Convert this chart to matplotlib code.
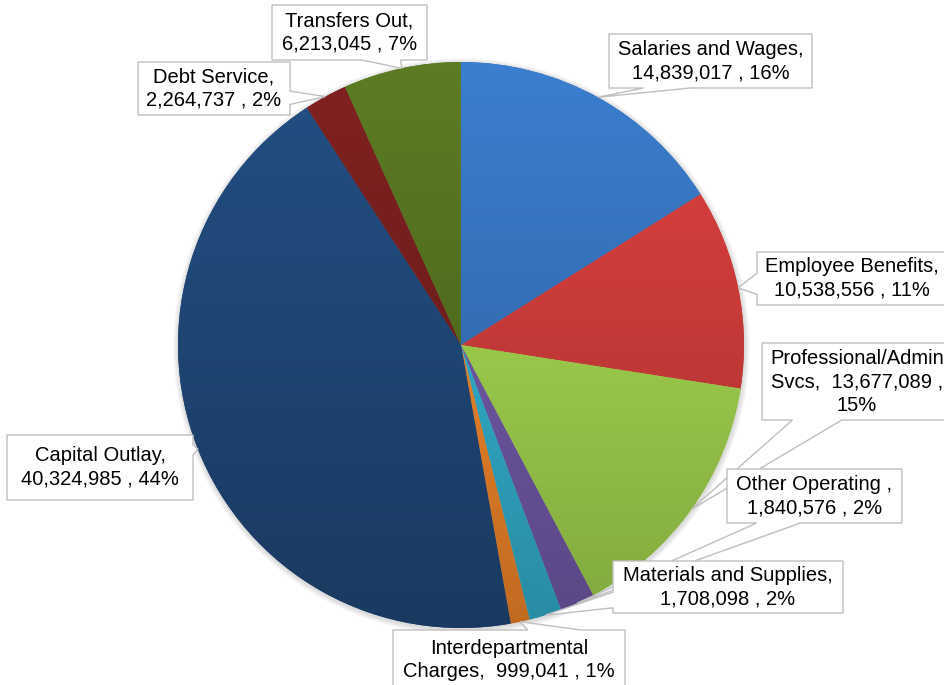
import numpy as np
import matplotlib
matplotlib.use("Agg")
import matplotlib.pyplot as plt
from matplotlib.patches import Polygon, Circle
from matplotlib.colors import to_rgb

# data
kategori = ["Salaries and Wages", "Employee Benefits", "Professional/Admin Svcs",
            "Other Operating", "Materials and Supplies", "Interdepartmental Charges",
            "Capital Outlay", "Debt Service", "Transfers Out"]
nilai = [14839017, 10538556, 13677089, 1840576, 1708098, 999041,
         40324985, 2264737, 6213045]
# format label tiap slice (patah barisnya ikut gambar aslinya)
format_label = ["{n},\n{v} , {p}%",
                "{n},\n{v} , {p}%",
                "Professional/Admin\nSvcs,  {v} ,\n{p}%",
                "{n} ,\n{v} , {p}%",
                "{n},\n{v} , {p}%",
                "Interdepartmental\nCharges,  {v} , {p}%",
                "{n},\n{v} , {p}%",
                "{n},\n{v} , {p}%",
                "{n},\n{v} , {p}%"]
warna = ["#3673BD", "#CD3C3A", "#A1D24E", "#7159A6", "#33AFCC", "#F0852A",
         "#204878", "#751F1E", "#547120"]

W, H = 945, 685
cx, cy, r = 461, H - 345, 283

# posisi kotak label (kiri, atas, kanan, bawah) dalam pixel dari atas, sisi pointer, pecahan basis
kotak = [(609, 34, 812, 88, "bottom", 0.17, 0.40),
         (757, 252, 947, 305, "left", 0.40, 0.80),
         (762, 343, 952, 420, "bottom", 0.16, 0.42),
         (727, 469, 902, 523, "bottom", 0.17, 0.42),
         (613, 561, 843, 613, "left", 0.60, 0.90),
         (393, 630, 625, 690, "top", 0.58, 0.81),
         (7, 435, 193, 500, "right", 0.15, 0.31),
         (138, 62, 290, 115, "right", 0.55, 0.80),
         (272, 5, 427, 60, "bottom", 0.58, 0.83)]

plt.rcParams['font.family'] = ['Liberation Sans', 'DejaVu Sans']

fig = plt.figure(figsize=(W / 100, H / 100), dpi=100)
ax = fig.add_axes([0, 0, 1, 1])

# bayangan tipis di sekitar pie
for k in range(6, 0, -1):
    ax.add_patch(Circle((cx + 0.5, cy - 1.5), r + k * 0.9, color="#000000",
                        alpha=0.025, lw=0, zorder=0))

wedges, _ = ax.pie(nilai, colors=warna, startangle=90, counterclock=False,
                   center=(cx, cy), radius=r, wedgeprops=dict(linewidth=0))

# gradasi vertikal: atas lebih terang, bawah lebih gelap
t = np.linspace(0, 1, 400)[:, None]
faktor = 1.1 - 0.3 * t
for w, c in zip(wedges, warna):
    base = np.array(to_rgb(c))
    img = np.clip(faktor[:, :, None] * base[None, None, :], 0, 1)
    im = ax.imshow(img, extent=(cx - r, cx + r, cy - r, cy + r), origin="upper",
                   aspect="auto", interpolation="bilinear", zorder=2)
    im.set_clip_path(w)
    w.set_zorder(1)

total = sum(nilai)


def callout(box, tip, text):
    x0, y0, x1, y1, side, f0, f1 = box
    bw, bh = x1 - x0, y1 - y0
    tx, ty = tip
    pts = [(x0, y0)]
    if side == "top":
        pts += [(x0 + f0 * bw, y0), (tx, H - ty), (x0 + f1 * bw, y0)]
    pts += [(x1, y0)]
    if side == "right":
        pts += [(x1, y0 + f0 * bh), (tx, H - ty), (x1, y0 + f1 * bh)]
    pts += [(x1, y1)]
    if side == "bottom":
        pts += [(x0 + f1 * bw, y1), (tx, H - ty), (x0 + f0 * bw, y1)]
    pts += [(x0, y1)]
    if side == "left":
        pts += [(x0, y0 + f1 * bh), (tx, H - ty), (x0, y0 + f0 * bh)]
    pts = [(px, H - py) for px, py in pts]
    ax.add_patch(Polygon(pts, closed=True, facecolor="white", edgecolor="#BFBFBF",
                         lw=1, zorder=5))
    ax.text((x0 + x1) / 2, H - (y0 + y1) / 2, text, ha="center", va="center",
            fontsize=14.5, color="black", linespacing=1.3, zorder=6)


for w, nama, fmt, v, b in zip(wedges, kategori, format_label, nilai, kotak):
    sudut = np.deg2rad((w.theta1 + w.theta2) / 2)
    ujung = (cx + r * np.cos(sudut), cy + r * np.sin(sudut))
    persen = int(round(v / total * 100))
    teks = fmt.format(n=nama, v=f"{v:,}", p=persen)
    callout(b, ujung, teks)

ax.set_xlim(0, W)
ax.set_ylim(0, H)
ax.set_aspect("auto")
ax.axis("off")

fig.savefig("out.png", dpi=100)
